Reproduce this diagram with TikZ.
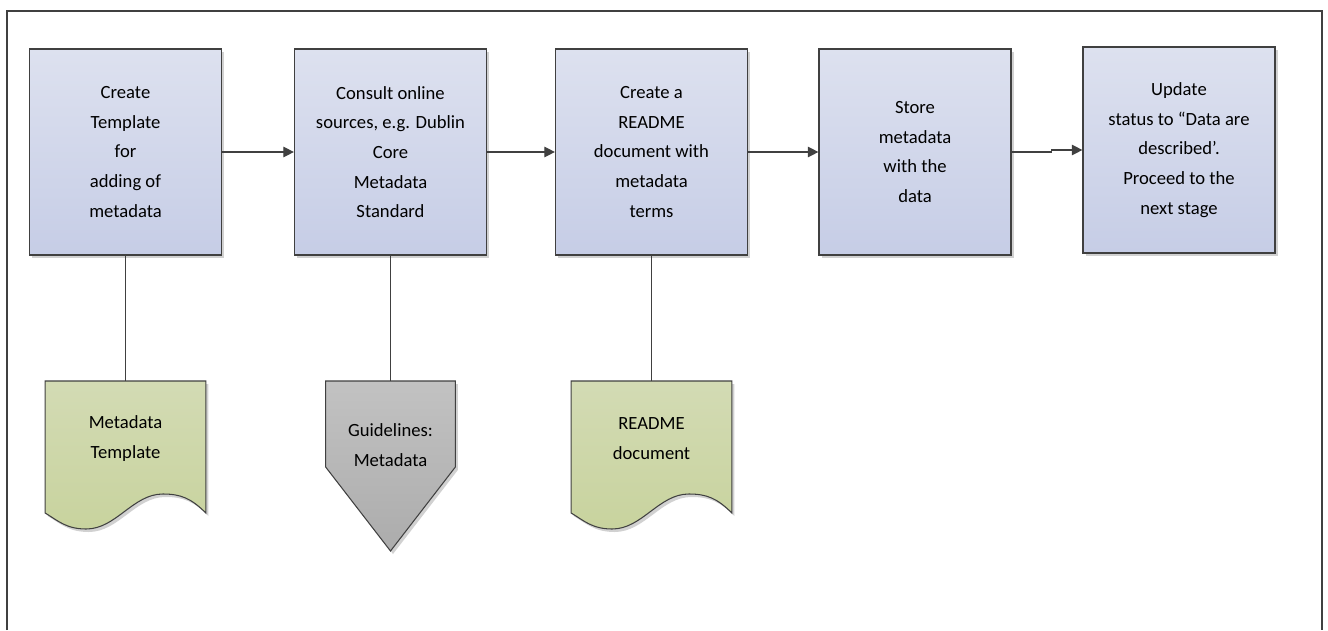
\documentclass[tikz,border=0pt]{standalone}
\usepackage{fontspec}
\setmainfont{Carlito}
\usetikzlibrary{arrows.meta,shadows,backgrounds}

\definecolor{linegray}{HTML}{404040}
\definecolor{boxtop}{HTML}{DDE1EF}
\definecolor{boxbot}{HTML}{C6CDE6}
\definecolor{doctop}{HTML}{D3DBB4}
\definecolor{docbot}{HTML}{C8D39E}
\definecolor{guidetop}{HTML}{C2C2C2}
\definecolor{guidebot}{HTML}{ACACAC}

\tikzset{
  softshadow/.style={drop shadow={shadow xshift=0.05cm, shadow yshift=-0.06cm, opacity=0.18, fill=black}},
  stepbox/.style={draw=linegray, line width=0.7pt, top color=boxtop, bottom color=boxbot,
    minimum width=3.84cm, minimum height=4.12cm, align=center, softshadow},
  docnode/.style={minimum width=3.2cm, minimum height=2.28cm, anchor=north, align=center},
  guidenode/.style={minimum width=2.58cm, minimum height=2.56cm, anchor=north, align=center},
  docshape/.style={draw=linegray, line width=0.6pt, top color=doctop, bottom color=docbot, softshadow},
  guideshape/.style={draw=linegray, line width=0.6pt, top color=guidetop, bottom color=guidebot, softshadow},
  flow/.style={draw=linegray, line width=0.7pt, -{Triangle[length=6pt,width=6pt]}},
  link/.style={draw=linegray, line width=0.6pt},
  framestyle/.style={draw=linegray, line width=1.3pt}
}

\begin{document}
\begin{tikzpicture}[font=\fontsize{10.6}{16.9}\selectfont]
  \useasboundingbox (0,0) rectangle (26.56,12.6);

  % outer frame, open at the bottom
  \draw[framestyle] (0.14,0) -- (0.14,12.38) -- (26.44,12.38) -- (26.44,0);

  % process steps
  \node[stepbox] (b1) at (2.51,9.56) {Create\\Template\\for\\adding of\\metadata};
  \node[stepbox] (b2) at (7.81,9.56) {Consult online\\sources, e.g. Dublin\\Core\\Metadata\\Standard};
  \node[stepbox] (b3) at (13.03,9.56) {Create a\\README\\document with\\metadata\\terms};
  \node[stepbox] (b4) at (18.30,9.56) {Store\\metadata\\with the\\data};
  \node[stepbox] (b5) at (23.58,9.60) {Update\\status to “Data are\\described’.\\Proceed to the\\next stage};

  % outputs
  \node[docnode] (d1) at (2.51,4.98) {Metadata\\Template};
  \node[guidenode] (g2) at (7.81,4.98) {Guidelines:\\Metadata};
  \node[docnode] (d3) at (13.03,4.98) {README\\document};

  \begin{scope}[on background layer]
    \draw[docshape] (d1.north west) -- (d1.north east) -- ([yshift=-2.64cm]d1.north east)
      .. controls +(-0.3,0.3) and +(0.35,0) .. ([xshift=-0.86cm,yshift=-2.26cm]d1.north east)
      .. controls +(-0.6,0) and +(0.6,0) .. ([xshift=0.82cm,yshift=-2.96cm]d1.north west)
      .. controls +(-0.4,0) and +(0.25,-0.15) .. ([yshift=-2.64cm]d1.north west) -- cycle;

    \draw[guideshape] (g2.north west) -- (g2.north east) -- ([yshift=-1.72cm]g2.north east)
      -- ([yshift=-3.4cm]g2.north) -- ([yshift=-1.72cm]g2.north west) -- cycle;

    \draw[docshape] (d3.north west) -- (d3.north east) -- ([yshift=-2.64cm]d3.north east)
      .. controls +(-0.3,0.3) and +(0.35,0) .. ([xshift=-0.86cm,yshift=-2.26cm]d3.north east)
      .. controls +(-0.6,0) and +(0.6,0) .. ([xshift=0.82cm,yshift=-2.96cm]d3.north west)
      .. controls +(-0.4,0) and +(0.25,-0.15) .. ([yshift=-2.64cm]d3.north west) -- cycle;
  \end{scope}

  % flow between steps
  \draw[flow] (b1.east) -- (b2.west);
  \draw[flow] (b2.east) -- (b3.west);
  \draw[flow] (b3.east) -- (b4.west);
  \draw[flow] (b4.east) -- ++(0.8,0) |- (b5.west);

  % steps to their outputs
  \draw[link] (b1.south) -- (d1.north);
  \draw[link] (b2.south) -- (g2.north);
  \draw[link] (b3.south) -- (d3.north);

\end{tikzpicture}
\end{document}
